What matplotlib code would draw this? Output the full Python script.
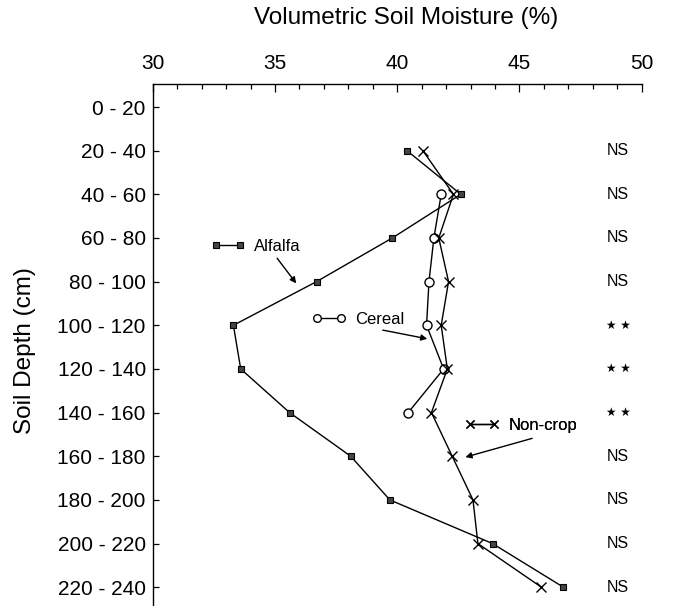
import matplotlib
matplotlib.use("Agg")
import matplotlib.pyplot as plt
from matplotlib.lines import Line2D
import numpy as np

plt.rcParams['font.family'] = ['Liberation Sans', 'DejaVu Sans']

depths = ["0 - 20", "20 - 40", "40 - 60", "60 - 80", "80 - 100", "100 - 120",
          "120 - 140", "140 - 160", "160 - 180", "180 - 200", "200 - 220", "220 - 240"]

alfalfa = [np.nan, 40.4, 42.6, 39.8, 36.7, 33.3, 33.6, 35.6, 38.1, 39.7, 43.9, 46.8]
cereal = [np.nan, np.nan, 41.8, 41.5, 41.3, 41.2, 41.9, 40.45, np.nan, np.nan, np.nan, np.nan]
noncrop = [np.nan, 41.05, 42.3, 41.7, 42.1, 41.8, 42.05, 41.4, 42.25, 43.1, 43.3, 45.9]
signif = ["", "NS", "NS", "NS", "NS", "**", "**", "**", "NS", "NS", "NS", "NS"]

W, H = 673, 606
fig = plt.figure(figsize=(W / 100, H / 100), dpi=100)
ax = fig.add_axes([152.7 / W, 0.0, 489.0 / W, 1 - 84.0 / H])

y = np.arange(len(depths))
lw = 1.0
sq_style = dict(marker='s', markersize=4.0, markerfacecolor='#444444',
                markeredgecolor='black', markeredgewidth=0.8)
ci_style = dict(marker='o', markerfacecolor='white', markeredgecolor='black',
                markeredgewidth=1.0)
x_style = dict(marker='x', markeredgewidth=1.0)

ax.plot(alfalfa, y, color='black', lw=lw, **sq_style)
ax.plot(cereal, y, color='black', lw=lw, markersize=6.5, **ci_style)
ax.plot(noncrop, y, color='black', lw=lw, markersize=7, **x_style)

ax.set_xlim(30, 50)
ax.set_ylim(11.43, -0.527)
ax.set_xticks([30, 35, 40, 45, 50])
ax.set_xticks(np.arange(30, 51, 1), minor=True)
ax.set_yticks(y)
ax.set_yticklabels(depths)
ax.xaxis.tick_top()
ax.tick_params(axis='x', which='major', direction='in', length=6, width=0.9,
               labelsize=15, pad=8)
ax.tick_params(axis='x', which='minor', direction='in', length=3.5, width=0.9)
ax.tick_params(axis='y', which='major', direction='in', length=4.5, width=0.9,
               labelsize=15, pad=5)
ax.spines['right'].set_visible(False)
ax.spines['bottom'].set_visible(False)
ax.spines['top'].set_linewidth(1.0)
ax.spines['left'].set_linewidth(1.0)

fig.text(405.8 / W, 1 - 18 / H, "Volumetric Soil Moisture (%)", ha='center', va='center',
         fontsize=17.5)
fig.text(25 / W, 1 - 350.5 / H, "Soil Depth (cm)", ha='center', va='center',
         rotation=90, fontsize=17.5)

for yi, s in zip(y, signif):
    if not s:
        continue
    if s == "**":
        ax.text(49.03, yi, "\u2605 \u2605", ha='center', va='center', fontsize=8.5,
                family=['DejaVu Sans'])
    else:
        ax.text(49.03, yi, s, ha='center', va='center', fontsize=11.5)


def place_legend(handle, label, x, yv):
    leg = ax.legend([handle], [label], loc='center left', bbox_to_anchor=(x, yv),
                    bbox_transform=ax.transData, frameon=False, numpoints=2,
                    handlelength=2.05, handletextpad=0.55, borderpad=0,
                    borderaxespad=0, fontsize=12)
    ax.add_artist(leg)


h_alf = Line2D([], [], color='black', lw=lw, **sq_style)
h_cer = Line2D([], [], color='black', lw=lw, markersize=5.5, **ci_style)
h_non = Line2D([], [], color='black', lw=lw, markersize=5.5, **x_style)

place_legend(h_alf, "Alfalfa", 32.37, 3.19)
place_legend(h_cer, "Cereal", 36.50, 4.86)
place_legend(h_non, "Non-crop", 42.77, 7.30)

arrow = dict(arrowstyle='-|>', lw=1.0, color='black', mutation_scale=9,
             shrinkA=0, shrinkB=0)
ax.annotate("", xy=(35.87, 4.04), xytext=(35.09, 3.465), arrowprops=arrow)
ax.annotate("", xy=(41.23, 5.31), xytext=(39.41, 5.11), arrowprops=arrow)
ax.annotate("", xy=(42.79, 8.02), xytext=(45.52, 7.59), arrowprops=arrow)

fig.savefig("out.png", dpi=100)
